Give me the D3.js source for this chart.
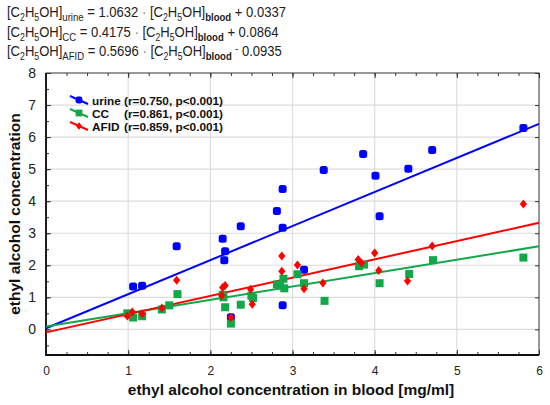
<!DOCTYPE html>
<html>
<head>
<meta charset="utf-8">
<script src="https://cdn.jsdelivr.net/npm/d3@7"></script>
<style>
  body { margin: 0; background: #fff; }
  svg { font-family: Arial, "Liberation Sans", sans-serif; }
</style>
</head>
<body>
<div id="chart"></div>
<script>
// data: [blood, value]
var urine = [[1.06,1.34],[1.17,1.36],[1.59,2.59],[2.15,2.83],[2.17,2.16],[2.18,2.44],[2.25,0.38],
  [2.37,3.22],[2.81,3.69],[2.88,4.38],[2.88,3.17],[2.88,0.75],[3.14,1.86],[3.38,4.97],[3.86,5.47],
  [4.01,4.79],[4.06,3.53],[4.41,5.01],[4.70,5.60],[5.81,6.28]];
var cc = [[0.99,0.50],[1.06,0.37],[1.17,0.41],[1.41,0.62],[1.50,0.75],[1.60,1.10],[2.15,1.08],
  [2.16,1.00],[2.18,0.69],[2.25,0.18],[2.37,0.77],[2.50,1.05],[2.52,0.98],[2.81,1.40],[2.85,1.37],
  [2.89,1.58],[2.90,1.28],[3.06,1.72],[3.14,1.44],[3.39,0.89],[3.81,1.97],[3.87,2.02],[4.06,1.44],
  [4.42,1.73],[4.71,2.16],[5.81,2.24]];
var afid = [[0.99,0.42],[1.05,0.54],[1.17,0.49],[1.41,0.67],[1.59,1.53],[2.14,1.06],[2.15,1.31],
  [2.18,1.37],[2.25,0.37],[2.49,1.25],[2.51,0.78],[2.87,2.29],[2.87,1.81],[3.06,2.01],[3.14,1.27],
  [3.37,1.45],[3.80,2.18],[3.84,2.07],[4.00,2.38],[4.05,1.84],[4.40,1.51],[4.70,2.60],[5.81,3.91]];

var seriesNames = ["urine", "CC", "AFID"];
var seriesStats = ["(r=0.750, p<0.001)", "(r=0.861, p<0.001)", "(r=0.859, p<0.001)"];
var slopes = [1.0632, 0.4175, 0.5696];
var intercepts = [0.0337, 0.0864, -0.0935];
var xTicks = [0, 1, 2, 3, 4, 5, 6];
var yTicks = [0, 1, 2, 3, 4, 5, 6, 7, 8];

var colors = ["#0000ff", "#12a84a", "#ff0000"];
var shapes = ["circle", "square", "diamond"];

var margin = {top: 73, right: 11, bottom: 50, left: 46},
    width = 550 - margin.left - margin.right,
    height = 405 - margin.top - margin.bottom;

var svg = d3.select("#chart")
  .append("svg")
    .attr("width", 550)
    .attr("height", 405);

var g = svg.append("g")
    .attr("transform", "translate(" + margin.left + "," + margin.top + ")");

var x = d3.scaleLinear().domain([0, 6]).range([0, width]);
var y = d3.scaleLinear().domain([-0.8, 8]).range([height, 0]);

// grid
g.selectAll(".vgrid").data(xTicks.slice(1, -1)).enter().append("line")
  .attr("x1", function(d) { return x(d); }).attr("x2", function(d) { return x(d); })
  .attr("y1", 0).attr("y2", height)
  .attr("stroke", "#dcdcdc").attr("stroke-width", 1.2);
g.selectAll(".hgrid").data(yTicks.slice(0, -1)).enter().append("line")
  .attr("y1", function(d) { return y(d); }).attr("y2", function(d) { return y(d); })
  .attr("x1", 0).attr("x2", width)
  .attr("stroke", "#dcdcdc").attr("stroke-width", 1.2);

// axes with inward ticks, mirrored on top/right
var xMinor = d3.range(0, 6.01, 0.25);
var yMinor = d3.range(-0.5, 8.01, 0.5);

function styleAxis(sel) {
  sel.select(".domain").remove();
  sel.selectAll(".tick line").attr("stroke", "#333");
}

g.append("g").attr("transform", "translate(0," + height + ")")
  .call(d3.axisBottom(x).tickValues(xMinor).tickSize(-3).tickFormat(""))
  .call(styleAxis);
g.append("g").attr("transform", "translate(0," + height + ")")
  .call(d3.axisBottom(x).tickValues(xTicks).tickSize(-5).tickPadding(11).tickFormat(d3.format("d")))
  .call(styleAxis)
  .selectAll("text").attr("font-size", 12).attr("fill", "#222");
g.append("g")
  .call(d3.axisTop(x).tickValues(xMinor).tickSize(-3).tickFormat(""))
  .call(styleAxis);
g.append("g")
  .call(d3.axisTop(x).tickValues(xTicks).tickSize(-5).tickFormat(""))
  .call(styleAxis);

g.append("g")
  .call(d3.axisLeft(y).tickValues(yMinor).tickSize(-3).tickFormat(""))
  .call(styleAxis);
g.append("g")
  .call(d3.axisLeft(y).tickValues(yTicks).tickSize(-5).tickPadding(10).tickFormat(d3.format("d")))
  .call(styleAxis)
  .selectAll("text").attr("font-size", 14).attr("fill", "#222");
g.append("g").attr("transform", "translate(" + width + ",0)")
  .call(d3.axisRight(y).tickValues(yTicks).tickSize(-4).tickFormat(""))
  .call(styleAxis);

// frame
g.append("rect")
  .attr("width", width).attr("height", height)
  .attr("fill", "none").attr("stroke", "#333").attr("stroke-width", 1);
g.append("path")
  .attr("d", "M0,0V" + height + "H" + width)
  .attr("fill", "none").attr("stroke", "#111").attr("stroke-width", 1.8);

// marker shapes
function marker(sel, shape, color) {
  if (shape === "circle") {
    sel.append("rect").attr("x", -4).attr("y", -4).attr("width", 8).attr("height", 8)
      .attr("rx", 2.5).attr("fill", color);
  } else if (shape === "square") {
    sel.append("rect").attr("x", -4).attr("y", -4).attr("width", 8).attr("height", 8)
      .attr("fill", color);
  } else {
    sel.append("path").attr("d", "M0,-4.5L3.6,0L0,4.5L-3.6,0Z").attr("fill", color);
  }
}

var allSeries = [urine, cc, afid];
var plot = g.append("g");

// regression lines
allSeries.forEach(function(s, i) {
  plot.append("line")
    .attr("x1", x(0)).attr("y1", y(intercepts[i]))
    .attr("x2", x(6)).attr("y2", y(slopes[i] * 6 + intercepts[i]))
    .attr("stroke", colors[i]).attr("stroke-width", 2);
});

// points
allSeries.forEach(function(s, i) {
  plot.selectAll(".pt" + i).data(s).enter().append("g")
    .attr("transform", function(d) { return "translate(" + x(d[0]) + "," + y(d[1]) + ")"; })
    .each(function() { marker(d3.select(this), shapes[i], colors[i]); });
});

// legend
var legend = g.append("g").attr("transform", "translate(24,27)");
seriesNames.forEach(function(name, i) {
  var row = legend.append("g").attr("transform", "translate(0," + (i * 13) + ")");
  row.append("line").attr("x1", 0).attr("y1", -4).attr("x2", 18).attr("y2", 4)
    .attr("stroke", colors[i]).attr("stroke-width", 2);
  marker(row.append("g").attr("transform", "translate(9,0) scale(0.85)"), shapes[i], colors[i]);
  row.append("text").attr("x", 22).attr("y", 4.5)
    .attr("font-size", 11.8).attr("font-weight", "bold").attr("fill", "#111").text(name);
  row.append("text").attr("x", 54).attr("y", 4.5)
    .attr("font-size", 11.8).attr("font-weight", "bold").attr("fill", "#111").text(seriesStats[i]);
});

// axis titles
svg.append("text")
  .attr("x", 291).attr("y", 395)
  .attr("text-anchor", "middle").attr("font-size", 15.5).attr("font-weight", "bold")
  .attr("fill", "#111").text("ethyl alcohol concentration in blood [mg/ml]");
svg.append("text")
  .attr("transform", "translate(20," + (margin.top + height / 2) + ") rotate(-90)")
  .attr("text-anchor", "middle").attr("font-size", 15.5).attr("font-weight", "bold")
  .attr("fill", "#111").text("ethyl alcohol concentration");

// regression equations at the top
var eqSubs = ["urine", "CC", "AFID"];
var eqCoef = ["1.0632", "0.4175", "0.5696"];
var eqConst = ["+ 0.0337", "+ 0.0864", "0.0935"];

var eqLines = [];
eqSubs.forEach(function(sub, i) {
  var t = svg.append("text").attr("x", 0).attr("y", 0)
    .attr("transform", "translate(7," + (17 + i * 19.5) + ")")
    .attr("font-size", 15).attr("fill", "#222");
  var shift = 0; // current baseline offset
  function part(txt, off, size, bold, fill) {
    var s = t.append("tspan").attr("dy", off - shift).text(txt);
    if (size) s.attr("font-size", size);
    if (bold) s.attr("font-weight", "bold");
    if (fill) s.attr("fill", fill);
    shift = off;
  }
  function formula(label, bold) {
    part("[C", 0); part("2", 4, 10); part("H", 0); part("5", 4, 10); part("OH]", 0);
    part(label, 4, 11, bold);
  }
  formula(sub, false);
  part(" = " + eqCoef[i] + " ", 0);
  part("·", 0, null, false, "#777");
  part(" ", 0);
  formula("blood", true);
  if (i === 2) {
    part(" ", 0);
    part("-", -4, 10);
    part(" " + eqConst[i], 0);
  } else {
    part(" " + eqConst[i], 0);
  }
  eqLines.push(t);
});

// the source equations are set a bit narrower than the default font
var k = 279 / eqLines[0].node().getComputedTextLength();
eqLines.forEach(function(t, i) {
  t.attr("transform", "translate(7," + (17 + i * 19.5) + ") scale(" + k + ",1)");
});
</script>
</body>
</html>
